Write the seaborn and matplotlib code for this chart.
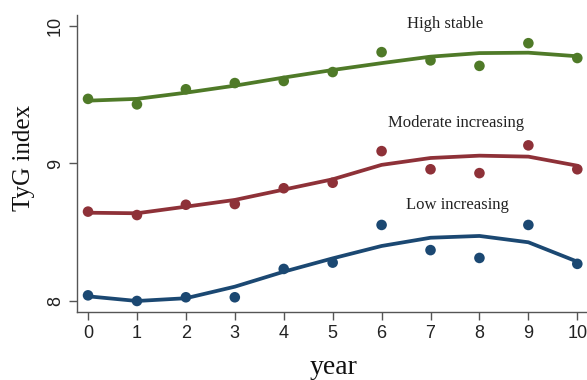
import numpy as np
import pandas as pd
import matplotlib
matplotlib.use("Agg")
import matplotlib.pyplot as plt
import seaborn as sns

years = [0, 1, 2, 3, 4, 5, 6, 7, 8, 9, 10]

high_obs = [9.47, 9.43, 9.54, 9.585, 9.60, 9.665, 9.81, 9.75, 9.71, 9.875, 9.767]
high_fit = [9.457, 9.47, 9.515, 9.566, 9.625, 9.68, 9.73, 9.777, 9.803, 9.806, 9.78]

mod_obs = [8.65, 8.625, 8.70, 8.705, 8.82, 8.86, 9.09, 8.958, 8.93, 9.132, 8.958]
mod_fit = [8.642, 8.638, 8.686, 8.735, 8.81, 8.885, 8.99, 9.04, 9.057, 9.05, 8.984]

low_obs = [8.041, 8.0, 8.027, 8.027, 8.233, 8.279, 8.553, 8.37, 8.313, 8.553, 8.27]
low_fit = [8.034, 8.0, 8.02, 8.104, 8.213, 8.31, 8.40, 8.46, 8.473, 8.427, 8.286]

groups = ["High stable", "Moderate increasing", "Low increasing"]
label_pos = [(7.3, 10.015), (7.53, 9.295), (7.55, 8.70)]
colors = ["#4f7a28", "#8e3138", "#1b4872"]

obs = pd.DataFrame({
    "year": years * 3,
    "tyg": high_obs + mod_obs + low_obs,
    "group": sum([[g] * len(years) for g in groups], []),
})
fit = pd.DataFrame({
    "year": years * 3,
    "tyg": high_fit + mod_fit + low_fit,
    "group": sum([[g] * len(years) for g in groups], []),
})

sns.set_style("ticks")
plt.rcParams["font.family"] = ["Liberation Sans", "DejaVu Sans"]

fig = plt.figure(figsize=(5.87, 3.80), dpi=100)
ax = fig.add_axes([0.1312, 0.179, 0.9, 0.7815])

palette = dict(zip(groups, colors))
sns.lineplot(data=fit, x="year", y="tyg", hue="group", palette=palette,
             linewidth=2.7, legend=False, ax=ax)
sns.scatterplot(data=obs, x="year", y="tyg", hue="group", palette=palette,
                s=58, linewidth=0, legend=False, ax=ax, zorder=3)

for g, (lx, ly) in zip(groups, label_pos):
    ax.text(lx, ly, g, ha="center", va="center", fontsize=12,
            family=["Liberation Serif"], color="#222222")

ax.set_xlim(-0.225, -0.225 + 528 / 48.9)
ax.set_ylim(7.92, 10.08)
ax.set_xticks(years)
ax.set_yticks([8, 9, 10])
ax.set_yticklabels(["8", "9", "10"], rotation=90, va="center")
ax.tick_params(axis="both", labelsize=13, colors="#555555", labelcolor="#222222",
               length=6, width=1)
for side in ["top", "right"]:
    ax.spines[side].set_visible(False)
for side in ["left", "bottom"]:
    ax.spines[side].set_color("#555555")
    ax.spines[side].set_linewidth(1)

ax.set_xlabel("")
ax.set_ylabel("")
fig.text(334 / 587, 1 - 368 / 380, "year", ha="center", va="center",
         fontsize=20, family=["Liberation Serif"], color="#111111")
fig.text(24 / 587, 1 - 158 / 380, "TyG index", ha="center", va="center",
         rotation=90, fontsize=18, family=["Liberation Serif"], color="#111111")

fig.savefig("out.png", dpi=100)
